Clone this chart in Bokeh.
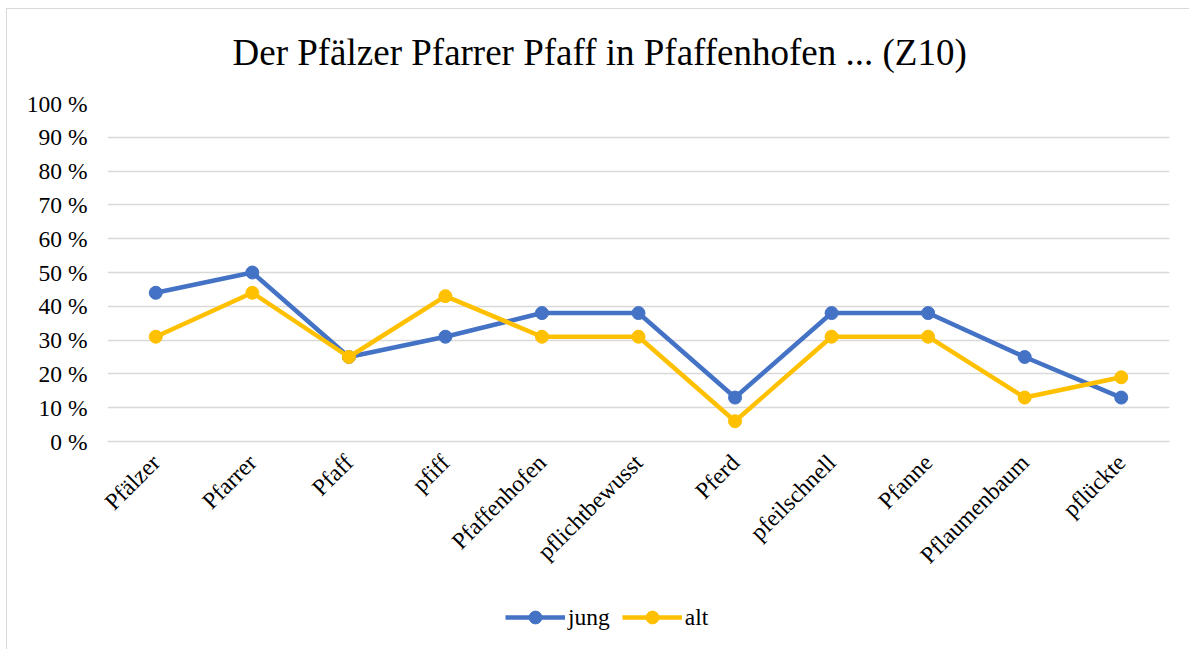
from bokeh.plotting import figure
from bokeh.models import ColumnDataSource, Legend, LegendItem, FixedTicker, Range1d
from bokeh.core.properties import value
from bokeh.layouts import column
from bokeh.embed import file_html
from bokeh.resources import INLINE
import math

categories = ["Pfälzer", "Pfarrer", "Pfaff", "pfiff", "Pfaffenhofen", "pflichtbewusst",
              "Pferd", "pfeilschnell", "Pfanne", "Pflaumenbaum", "pflückte"]
jung = [44, 50, 25, 31, 38, 38, 13, 38, 38, 25, 13]
alt = [31, 44, 25, 43, 31, 31, 6, 31, 31, 13, 19]
y_ticks = [0, 10, 20, 30, 40, 50, 60, 70, 80, 90, 100]
y_tick_labels = ["0 %", "10 %", "20 %", "30 %", "40 %", "50 %", "60 %", "70 %", "80 %", "90 %", "100 %"]
series_names = ["jung", "alt"]
title_text = "Der Pfälzer Pfarrer Pfaff in Pfaffenhofen ... (Z10)"

BLUE = "#4472C4"
GOLD = "#FFC000"
FONT = "Liberation Serif"

src = ColumnDataSource(dict(cat=categories, jung=jung, alt=alt))

# ---- title strip
t = figure(width=1182, height=80, x_range=Range1d(0, 1062), y_range=Range1d(0, 80),
           output_backend="svg", toolbar_location=None,
           x_axis_location=None, y_axis_location=None,
           min_border_left=100, min_border_right=20, min_border_top=0, min_border_bottom=0)
t.grid.visible = False
t.outline_line_color = None
t.border_fill_color = "white"
t.text(x=[125], y=[37], text=[title_text], text_font=value(FONT), text_font_size="37px",
       text_color="#000000", text_align="left", text_baseline="middle")

# ---- main chart
p = figure(width=1182, height=508, x_range=categories, y_range=(0, 100),
           output_backend="svg", toolbar_location=None,
           min_border_left=100, min_border_right=20, min_border_top=14, min_border_bottom=156)
p.outline_line_color = None
p.background_fill_color = "white"
p.border_fill_color = "white"

p.xgrid.grid_line_color = None
p.ygrid.grid_line_color = "#D9D9D9"
p.ygrid.grid_line_width = 1.5
p.yaxis.ticker = FixedTicker(ticks=y_ticks)
p.yaxis.major_label_overrides = {tk: lb for tk, lb in zip(y_ticks, y_tick_labels)}

for ax in (p.xaxis, p.yaxis):
    ax.major_tick_line_color = None
    ax.minor_tick_line_color = None
    ax.major_tick_out = 0
    ax.major_tick_in = 0
    ax.major_label_text_font = FONT
    ax.major_label_text_font_size = "23.5px"
    ax.major_label_text_color = "#000000"
p.yaxis.axis_line_color = None
p.yaxis.major_label_standoff = 20
p.xaxis.axis_line_color = "#D9D9D9"
p.xaxis.axis_line_width = 1.5
p.xaxis.major_label_orientation = math.pi / 4
p.xaxis.major_label_standoff = 17

p.line("cat", "jung", source=src, color=BLUE, line_width=4.5)
p.scatter("cat", "jung", source=src, color=BLUE, size=13)
p.line("cat", "alt", source=src, color=GOLD, line_width=4.5)
p.scatter("cat", "alt", source=src, color=GOLD, size=13)

# ---- legend strip below the chart (series drawn out of view, only legend shows)
q = figure(width=1182, height=52, x_range=categories, y_range=Range1d(500, 501),
           output_backend="svg", toolbar_location=None,
           x_axis_location=None, y_axis_location=None,
           min_border_left=100, min_border_right=20, min_border_top=0, min_border_bottom=0)
q.grid.visible = False
q.outline_line_color = None
q.border_fill_color = "white"
items = []
for name, col in zip(series_names, [BLUE, GOLD]):
    lr = q.line("cat", name, source=src, color=col, line_width=4.5)
    sr = q.scatter("cat", name, source=src, color=col, size=13)
    items.append(LegendItem(label=name, renderers=[lr, sr]))

legend = Legend(items=items, orientation="horizontal", location=(398, 16),
                padding=0, margin=0, spacing=12, label_standoff=3,
                glyph_width=60, glyph_height=32, label_height=32,
                border_line_color=None, background_fill_alpha=0,
                label_text_font=FONT, label_text_font_size="23.5px",
                label_text_color="#000000")
q.add_layout(legend, "center")

layout = column(t, p, q, spacing=0,
                styles={"transform": "translate(6px, 8px)",
                        "border-left": "1px solid #D9D9D9", "border-top": "1px solid #D9D9D9"})

open("out.html", "w").write(file_html(layout, INLINE))
